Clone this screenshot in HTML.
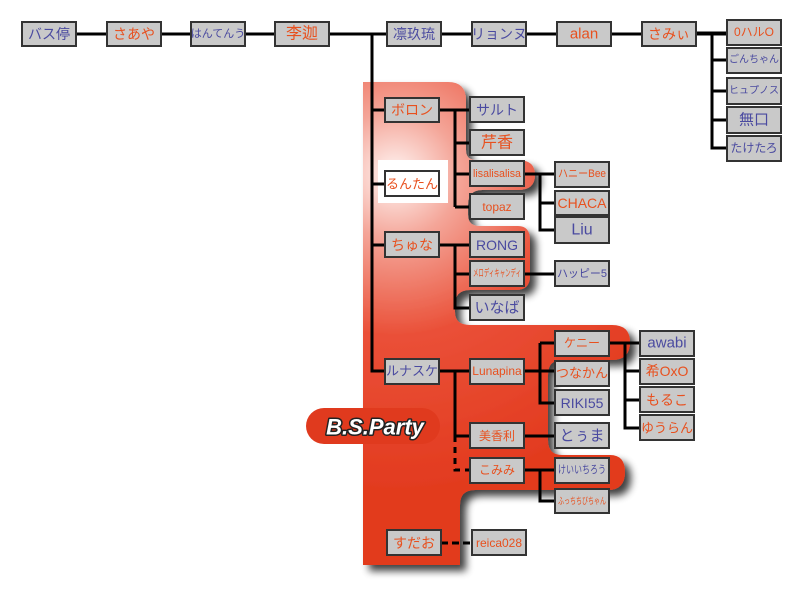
<!DOCTYPE html>
<html><head><meta charset="utf-8"><style>
html,body{margin:0;padding:0;background:#fff;width:800px;height:600px;overflow:hidden}
svg text{font-family:"Liberation Sans","Noto Sans CJK JP",sans-serif;font-size:14px;dominant-baseline:central;text-anchor:middle}
.o{fill:#e8501e}.b{fill:#4a4aa0}
.bx{fill:#c9c9c9;stroke:#333;stroke-width:2}
.ln{stroke:#000;stroke-width:3;fill:none}
</style></head><body>
<svg width="800" height="600" viewBox="0 0 800 600" xmlns="http://www.w3.org/2000/svg">
<defs>
<radialGradient id="rg" cx="395" cy="175" r="320" gradientUnits="userSpaceOnUse">
<stop offset="0" stop-color="#fff6f4"/><stop offset="0.2" stop-color="#f4a598"/><stop offset="0.5" stop-color="#ea5038"/><stop offset="1" stop-color="#e23a1e"/>
</radialGradient>
<filter id="sh" x="-10%" y="-10%" width="130%" height="130%"><feGaussianBlur in="SourceAlpha" stdDeviation="4"/><feOffset dx="6" dy="6"/><feComponentTransfer><feFuncA type="linear" slope="0.75"/></feComponentTransfer><feMerge><feMergeNode/><feMergeNode in="SourceGraphic"/></feMerge></filter>
</defs>
<path filter="url(#sh)" fill="url(#rg)" d="M363 82 H448 Q466 82 466 100 V150 Q466 160 476 160 H518 Q535 160 535 175 Q535 190 518 190 H482 Q468 190 468 205 V215 Q468 226 480 226 H518 Q530 226 530 240 V276 Q530 290 516 290 H470 Q455 290 455 305 V312 Q455 325 470 325 H612 Q630 325 630 342 Q630 360 612 360 H562 Q548 360 548 375 V440 Q548 455 562 455 H610 Q625 455 625 472 Q625 490 608 490 H475 Q460 490 460 505 V565 H363 Z"/>
<rect x="378" y="160" width="70" height="43" fill="#fff"/>
<rect x="306" y="408" width="134" height="36" rx="18" fill="#e03a1e"/>
<text x="375" y="427" style="font-size:22px;font-weight:bold;font-style:italic;fill:#fff;stroke:#222;stroke-width:3;paint-order:stroke;stroke-linejoin:round">B.S.Party</text>
<g class="ln">
<path d="M76 34 H727"/>
<path d="M372 34 V371 H385 M372 110 H385 M372 184 H385 M372 245 H385"/>
<path d="M439 110 H470 M455 110 V207 M455 143 H470 M455 174 H470 M455 207 H470"/>
<path d="M524 174 H555 M540 174 V230 H555 M540 203 H555"/>
<path d="M439 245 H470 M455 245 V308 H470 M455 274 H470 M524 274 H555"/>
<path d="M696 33 H727 M712 33 V148 H727 M712 60 H727 M712 91 H727 M712 120 H727"/>
<path d="M439 371 H470 M455 371 V436 H470"/>
<path d="M455 436 V470 H470" stroke-dasharray="6,5"/>
<path d="M524 371 H555 M540 343 V403 H555 M540 343 H555"/>
<path d="M609 343 H640 M625 343 V428 H640 M625 371 H640 M625 400 H640"/>
<path d="M524 436 H555 M524 470 H555 M540 470 V501 H555"/>
<path d="M441 543 H472" stroke-dasharray="7,4"/>
</g>
<g>
<rect class="bx" x="22" y="22" width="54" height="24"/><text class="b" x="49" y="34">バス停</text>
<rect class="bx" x="107" y="22" width="54" height="24"/><text class="o" x="134" y="34">さあや</text>
<rect class="bx" x="191" y="22" width="54" height="24"/><text class="b" x="218" y="34" style="font-size:11px">はんてんう</text>
<rect class="bx" x="275" y="22" width="54" height="24"/><text class="o" x="302" y="34" style="font-size:16px">李迦</text>
<rect class="bx" x="387" y="22" width="54" height="24"/><text class="b" x="414" y="34">凛玖琉</text>
<rect class="bx" x="472" y="22" width="54" height="24"/><text class="b" x="499" y="34">リョンヌ</text>
<rect class="bx" x="557" y="22" width="54" height="24"/><text class="o" x="584" y="34" style="font-size:15px">alan</text>
<rect class="bx" x="642" y="22" width="54" height="24"/><text class="o" x="669" y="34">さみぃ</text>
<rect class="bx" x="727" y="20" width="54" height="25"/><text class="o" x="754" y="32" style="font-size:12px">0ハルO</text>
<rect class="bx" x="727" y="48" width="54" height="25"/><text class="b" x="754" y="60" style="font-size:10px">ごんちゃん</text>
<rect class="bx" x="727" y="78" width="54" height="26"/><text class="b" x="754" y="91" style="font-size:10px">ヒュプノス</text>
<rect class="bx" x="727" y="107" width="54" height="26"/><text class="b" x="754" y="120" style="font-size:15px">無口</text>
<rect class="bx" x="727" y="136" width="54" height="25"/><text class="b" x="754" y="148" style="font-size:12px">たけたろ</text>

<rect class="bx" x="385" y="98" width="54" height="24"/><text class="o" x="412" y="110">ボロン</text>
<rect x="385" y="171" width="54" height="25" fill="#fff" stroke="#333" stroke-width="2"/><text class="o" x="412" y="184" style="font-size:13px">るんたん</text>
<rect class="bx" x="385" y="232" width="54" height="25"/><text class="o" x="412" y="245">ちゅな</text>
<rect class="bx" x="385" y="359" width="54" height="25"/><text class="b" x="412" y="371" style="font-size:13px">ルナスケ</text>
<rect class="bx" x="387" y="530" width="54" height="25"/><text class="o" x="414" y="543">すだお</text>

<rect class="bx" x="470" y="97" width="54" height="25"/><text class="b" x="497" y="110">サルト</text>
<rect class="bx" x="470" y="130" width="54" height="25"/><text class="o" x="497" y="143" style="font-size:16px">芹香</text>
<rect class="bx" x="470" y="161" width="54" height="25"/><text class="o" x="497" y="174" style="font-size:11px" textLength="48" lengthAdjust="spacingAndGlyphs">lisalisalisa</text>
<rect class="bx" x="470" y="194" width="54" height="25"/><text class="o" x="497" y="207" style="font-size:12px">topaz</text>
<rect class="bx" x="470" y="232" width="54" height="25"/><text class="b" x="497" y="245">RONG</text>
<rect class="bx" x="470" y="261" width="54" height="25"/><text class="o" x="497" y="274" style="font-size:10px" textLength="48" lengthAdjust="spacingAndGlyphs">メロディキャンディ</text>
<rect class="bx" x="470" y="295" width="54" height="25"/><text class="b" x="497" y="308" style="font-size:15px">いなば</text>
<rect class="bx" x="470" y="359" width="54" height="25"/><text class="o" x="497" y="371" style="font-size:12px">Lunapina</text>
<rect class="bx" x="470" y="423" width="54" height="25"/><text class="o" x="497" y="436" style="font-size:12px">美香利</text>
<rect class="bx" x="470" y="458" width="54" height="25"/><text class="o" x="497" y="470" style="font-size:12px">こみみ</text>
<rect class="bx" x="472" y="530" width="54" height="25"/><text class="o" x="499" y="543" style="font-size:12px">reica028</text>

<rect class="bx" x="555" y="162" width="54" height="25"/><text class="o" x="582" y="174" style="font-size:11px" textLength="48" lengthAdjust="spacingAndGlyphs">ハニーBee</text>
<rect class="bx" x="555" y="191" width="54" height="24"/><text class="o" x="582" y="203">CHACA</text>
<rect class="bx" x="555" y="217" width="54" height="26"/><text class="b" x="582" y="230" style="font-size:16px">Liu</text>
<rect class="bx" x="555" y="261" width="54" height="25"/><text class="b" x="582" y="274" style="font-size:11px">ハッピー5</text>
<rect class="bx" x="555" y="331" width="54" height="25"/><text class="o" x="582" y="343" style="font-size:12px">ケニー</text>
<rect class="bx" x="555" y="361" width="54" height="25"/><text class="o" x="582" y="373" style="font-size:13px">つなかん</text>
<rect class="bx" x="555" y="390" width="54" height="25"/><text class="b" x="582" y="403">RIKI55</text>
<rect class="bx" x="555" y="423" width="54" height="25"/><text class="b" x="582" y="436" style="font-size:15px">とぅま</text>
<rect class="bx" x="555" y="458" width="54" height="25"/><text class="b" x="582" y="470" style="font-size:11px" textLength="48" lengthAdjust="spacingAndGlyphs">けいいちろう</text>
<rect class="bx" x="555" y="489" width="54" height="24"/><text class="o" x="582" y="501" style="font-size:9px" textLength="48" lengthAdjust="spacingAndGlyphs">ふっちちびちゃん</text>

<rect class="bx" x="640" y="331" width="54" height="25"/><text class="b" x="667" y="343" style="font-size:15px">awabi</text>
<rect class="bx" x="640" y="359" width="54" height="25"/><text class="o" x="667" y="371">希OxO</text>
<rect class="bx" x="640" y="387" width="54" height="25"/><text class="o" x="667" y="400">もるこ</text>
<rect class="bx" x="640" y="415" width="54" height="25"/><text class="o" x="667" y="428" style="font-size:13px">ゆうらん</text>
</g>
</svg>
</body></html>
